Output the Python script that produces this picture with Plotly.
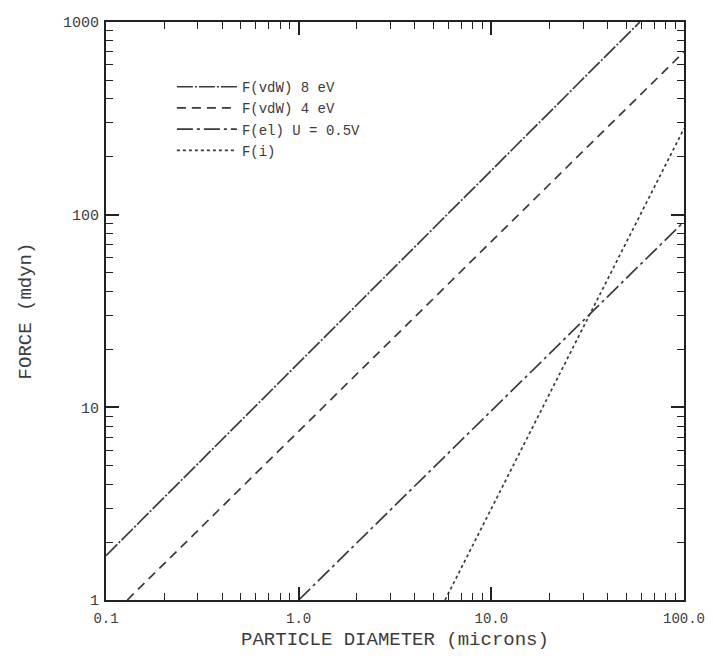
import plotly.graph_objects as go

# Data (log-log straight lines, endpoints)
d_vdw8 = [0.1, 59.0]
f_vdw8 = [1.7, 1000.0]
d_vdw4 = [0.129, 100.0]
f_vdw4 = [1.0, 700.0]
d_el = [1.0, 100.0]
f_el = [1.0, 92.0]
d_i = [5.75, 100.0]
f_i = [1.0, 280.0]

names = ["F(vdW) 8 eV", "F(vdW) 4 eV", "F(el) U = 0.5V", "F(i)"]

x_tickvals = [0.1, 1, 10, 100]
x_ticktext = ["0.1", "1.0", "10.0", "100.0"]
y_tickvals = [1, 10, 100, 1000]
y_ticktext = ["1", "10", "100", "1000"]
minor_vals = [m * 10 ** e for e in range(-1, 3) for m in range(2, 10)]

FONT = "Liberation Mono"
COL = "#3a3a3a"
TXT = "#3c3c3c"

fig = go.Figure()
series = [
    (d_vdw8, f_vdw8, "16px,2px,2px,2px"),
    (d_vdw4, f_vdw4, "9px,6px"),
    (d_el, f_el, "16px,4px,3px,4px"),
    (d_i, f_i, "3px,3px"),
]
for (x, y, dash), nm in zip(series, names):
    fig.add_trace(go.Scatter(x=x, y=y, mode="lines", name=nm,
                             line=dict(color=COL, width=1.7, dash=dash)))

axis_common = dict(
    type="log", showgrid=False, zeroline=False, showline=True,
    linecolor="#222", linewidth=2, mirror="ticks", ticks="inside",
    ticklen=13, tickwidth=1.5, tickcolor="#222", automargin=False,
    ticklabeloverflow="allow",
)

fig.update_xaxes(range=[-1, 2], tickvals=x_tickvals, ticktext=x_ticktext,
                 ticklabelstandoff=4,
                 tickfont=dict(family=FONT, size=14, color=TXT),
                 minor=dict(tickvals=[v for v in minor_vals if 0.1 < v < 100],
                            ticks="inside", ticklen=7, tickwidth=1.3, tickcolor="#222"),
                 title=dict(text="PARTICLE DIAMETER (microns)", standoff=11,
                            font=dict(family=FONT, size=19, color=TXT)),
                 **axis_common)
fig.update_yaxes(range=[0, 3], tickvals=y_tickvals, ticktext=y_ticktext,
                 ticklabelstandoff=2,
                 tickfont=dict(family=FONT, size=15, color=TXT),
                 minor=dict(tickvals=[v for v in minor_vals if 1 < v < 1000],
                            ticks="inside", ticklen=7, tickwidth=1.3, tickcolor="#222"),
                 title=dict(text="FORCE (mdyn)", standoff=26,
                            font=dict(family=FONT, size=19, color=TXT)),
                 **axis_common)

fig.update_layout(
    width=697, height=643,
    margin=dict(l=98, r=21, t=14, b=51),
    plot_bgcolor="white", paper_bgcolor="white",
    showlegend=True,
    legend=dict(x=0.114, y=0.915, xanchor="left", yanchor="top",
                font=dict(family=FONT, size=14, color=TXT),
                bgcolor="rgba(0,0,0,0)", tracegroupgap=0, itemwidth=60),
)

fig.write_html("out.html")
